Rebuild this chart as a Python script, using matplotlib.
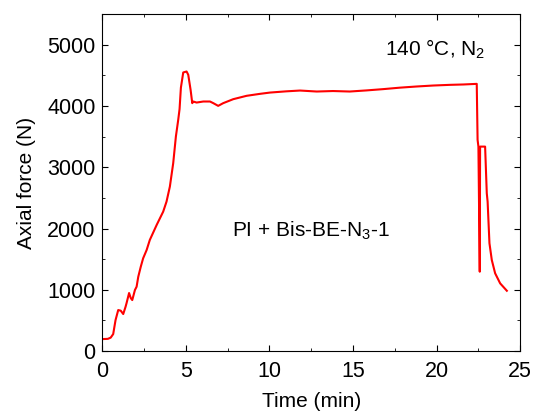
import matplotlib.pyplot as plt
from matplotlib.ticker import MultipleLocator

plt.rcParams['font.family'] = ['Liberation Sans', 'DejaVu Sans']
plt.rcParams['mathtext.fontset'] = 'custom'
plt.rcParams['mathtext.rm'] = 'Liberation Sans'
plt.rcParams['mathtext.it'] = 'Liberation Sans'

# time (min) and axial force (N)
time = [0, 0.33, 0.5, 0.65, 0.79, 0.95, 1.1, 1.25, 1.39, 1.45, 1.6, 1.7, 1.79,
        1.95, 2.05, 2.15, 2.3, 2.44, 2.65, 2.84, 3.25, 3.64, 3.84, 4.04, 4.24,
        4.4, 4.54, 4.62, 4.7, 4.84, 5.04, 5.14, 5.28, 5.38, 5.44, 5.64, 6.04,
        6.44, 6.64, 6.93, 7.23, 7.83, 8.63, 9.43, 10.03, 11.0, 11.83, 12.83,
        13.8, 14.8, 15.8, 16.8, 17.8, 18.8, 19.8, 20.8, 21.6, 22.4, 22.45,
        22.5, 22.58, 22.6, 22.9, 23.0, 23.05, 23.16, 23.3, 23.5, 23.8, 24.2]
force = [196, 200, 220, 278, 506, 670, 660, 605, 724, 784, 948, 866, 833,
         997, 1051, 1214, 1378, 1514, 1650, 1814, 2059, 2276, 2440, 2685, 3067,
         3502, 3775, 3950, 4300, 4548, 4564, 4510, 4265, 4047, 4074, 4057, 4074,
         4074, 4047, 4003, 4047, 4112, 4167, 4199, 4220, 4240, 4253, 4237,
         4245, 4237, 4255, 4276, 4300, 4319, 4335, 4346, 4352, 4362, 3448,
         3338, 1296, 3338, 3338, 2577, 2440, 1760, 1487, 1270, 1106, 985]

fig, ax = plt.subplots(figsize=(5.33, 4.16), dpi=100)
fig.subplots_adjust(left=0.192, right=0.976, bottom=0.156, top=0.966)

ax.plot(time, force, color='red', linewidth=1.5)

ax.set_xlim(0, 25)
ax.set_ylim(0, 5500)
ax.xaxis.set_major_locator(MultipleLocator(5))
ax.xaxis.set_minor_locator(MultipleLocator(2.5))
ax.yaxis.set_major_locator(MultipleLocator(1000))
ax.yaxis.set_minor_locator(MultipleLocator(500))
ax.tick_params(which='both', direction='in', top=True, right=True, labelsize=15.5)
ax.tick_params(which='major', length=4.5)
ax.tick_params(which='minor', length=2.5)
ax.tick_params(axis='x', pad=7)
ax.tick_params(axis='y', pad=5)
ax.set_xlabel('Time (min)', fontsize=15, labelpad=7)
ax.set_ylabel('Axial force (N)', fontsize=15, labelpad=8)

ax.text(16.9, 4920, '140 °C, N$_2$', fontsize=15, va='center')
ax.text(12.5, 1960, 'PI + Bis-BE-N$_3$-1', fontsize=15, ha='center', va='center')

plt.savefig('out.png', dpi=100)
